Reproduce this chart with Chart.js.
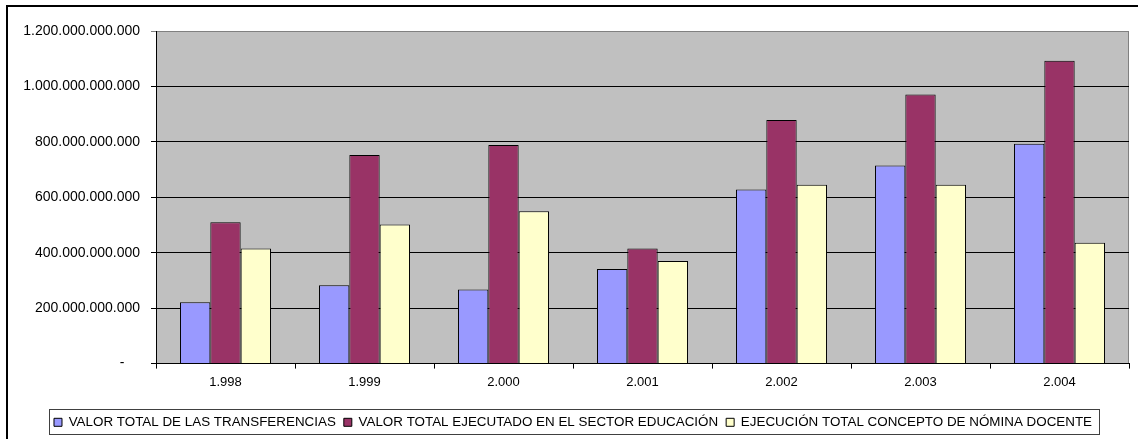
<!DOCTYPE html>
<html>
<head>
<meta charset="utf-8">
<script src="https://cdn.jsdelivr.net/npm/chart.js@4/dist/chart.umd.min.js"></script>
<style>
    html, body { margin: 0; padding: 0; background: #fff; }
    #wrap { width: 1138px; height: 439px; }
</style>
</head>
<body>
<div id="wrap"><canvas id="myBarChart" width="1138" height="439"></canvas></div>
<script>
// Data
const years = ['1.998', '1.999', '2.000', '2.001', '2.002', '2.003', '2.004'];
const transferencias = [221e9, 283e9, 267e9, 341e9, 628e9, 715e9, 793e9];
const ejecutadoEducacion = [510e9, 753e9, 789e9, 415e9, 879e9, 971e9, 1093e9];
const nominaDocente = [415e9, 502e9, 550e9, 370e9, 645e9, 645e9, 436e9];
const seriesLabels = [
    'VALOR TOTAL DE LAS TRANSFERENCIAS',
    'VALOR TOTAL EJECUTADO EN EL SECTOR EDUCACIÓN',
    'EJECUCIÓN TOTAL CONCEPTO DE NÓMINA DOCENTE'
];

Chart.defaults.font.family = '"Liberation Sans", Arial, sans-serif';
Chart.defaults.font.size = 13;
Chart.defaults.color = '#000';

function formatDots(v) {
    if (v === 0) return '-    ';
    return String(Math.round(v)).replace(/\B(?=(\d{3})+(?!\d))/g, '.');
}

// gray plot area, outer frame, legend frame
const excelLook = {
    id: 'excelLook',
    beforeDraw(chart) {
        const ctx = chart.ctx;
        const a = chart.chartArea;
        ctx.save();
        ctx.fillStyle = '#fff';
        ctx.fillRect(0, 0, chart.width, chart.height);
        ctx.strokeStyle = '#000';
        ctx.lineWidth = 2;
        ctx.strokeRect(7, 6, chart.width + 20, chart.height + 20);
        ctx.fillStyle = '#C0C0C0';
        ctx.fillRect(a.left, a.top, a.right - a.left, a.bottom - a.top);
        ctx.strokeStyle = '#808080';
        ctx.lineWidth = 1;
        ctx.beginPath();
        ctx.moveTo(a.left, a.top + 0.5);
        ctx.lineTo(a.right - 0.5, a.top + 0.5);
        ctx.lineTo(a.right - 0.5, a.bottom);
        ctx.stroke();
        ctx.restore();
    },
    afterDraw(chart) {
        const boxes = chart.legend.legendHitBoxes;
        if (!boxes || !boxes.length) return;
        const ctx = chart.ctx;
        let left = Infinity, right = -Infinity, top = Infinity, bottom = -Infinity;
        boxes.forEach(b => {
            left = Math.min(left, b.left);
            right = Math.max(right, b.left + b.width);
            top = Math.min(top, b.top);
            bottom = Math.max(bottom, b.top + b.height);
        });
        ctx.save();
        ctx.strokeStyle = '#404040';
        ctx.lineWidth = 1;
        ctx.strokeRect(Math.round(left) - 4.5, Math.round(top) - 6.5, Math.round(right - left) + 12, Math.round(bottom - top) + 12);
        ctx.restore();
    }
};

const barChartData = {
    labels: years,
    datasets: [{
        label: seriesLabels[0],
        data: transferencias,
        backgroundColor: '#9999FF',
        borderColor: '#000',
        borderWidth: 1
    }, {
        label: seriesLabels[1],
        data: ejecutadoEducacion,
        backgroundColor: '#993366',
        borderColor: '#000',
        borderWidth: 1
    }, {
        label: seriesLabels[2],
        data: nominaDocente,
        backgroundColor: '#FFFFCC',
        borderColor: '#000',
        borderWidth: 1
    }]
};

const barChartConfig = {
    type: 'bar',
    data: barChartData,
    plugins: [excelLook],
    options: {
        responsive: false,
        animation: false,
        devicePixelRatio: 1,
        layout: {
            padding: { left: 17, right: 9, top: 31, bottom: 0 }
        },
        datasets: {
            bar: {
                categoryPercentage: 0.655,
                barPercentage: 1
            }
        },
        scales: {
            x: {
                grid: {
                    offset: true,
                    drawOnChartArea: false,
                    tickLength: 5,
                    color: '#000'
                },
                border: { color: '#000' },
                ticks: { padding: 6, color: '#000' },
                afterFit(scale) { scale.height = 44; }
            },
            y: {
                min: 0,
                max: 1200e9,
                grid: {
                    tickLength: 5,
                    color: ctx => ctx.tick && ctx.tick.value === 1200e9 ? '#808080' : '#000'
                },
                border: { color: '#000' },
                ticks: {
                    stepSize: 200e9,
                    padding: 11,
                    color: '#000',
                    font: { size: 14 },
                    callback: v => formatDots(v)
                },
                afterFit(scale) { scale.width = 139; }
            }
        },
        plugins: {
            legend: {
                position: 'bottom',
                labels: {
                    boxWidth: 8,
                    boxHeight: 8,
                    padding: 8,
                    color: '#000',
                    font: { size: 13.4 }
                }
            },
            tooltip: { enabled: false }
        }
    }
};

new Chart(
    document.getElementById('myBarChart'),
    barChartConfig
);
</script>
</body>
</html>
